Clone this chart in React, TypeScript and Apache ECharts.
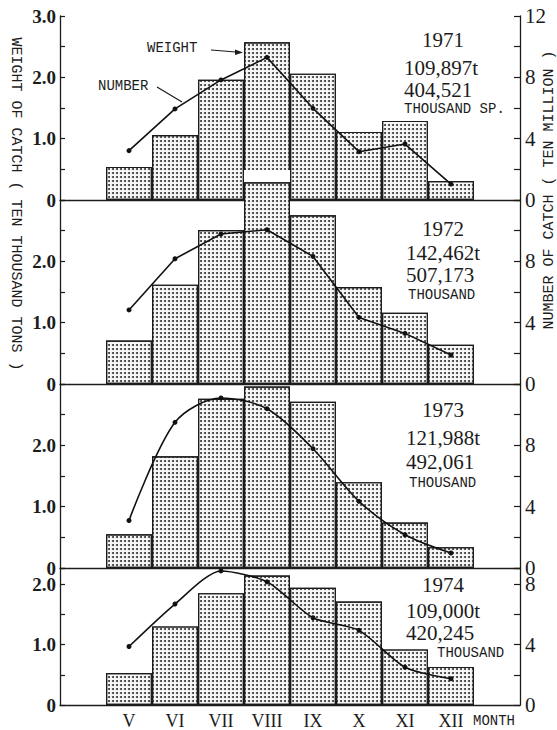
import React, { useEffect, useRef } from 'react';
import * as echarts from 'echarts';

// ---------- data ----------
const months = ['', 'V', 'VI', 'VII', 'VIII', 'IX', 'X', 'XI', 'XII', ''];
const years = ['1971', '1972', '1973', '1974'];
// weight of catch (ten thousand tons), months V..XII
const weight1971 = [0.54, 1.06, 1.96, 2.57, 2.06, 1.11, 1.29, 0.31];
const weight1972 = [0.71, 1.62, 2.51, 3.29, 2.75, 1.58, 1.16, 0.64];
const weight1973 = [0.55, 1.82, 2.76, 2.96, 2.71, 1.40, 0.74, 0.34];
const weight1974 = [0.53, 1.30, 1.85, 2.14, 1.94, 1.71, 0.92, 0.63];
// number of catch (ten million), months V..XII
const number1971 = [3.22, 5.94, 7.83, 9.30, 5.98, 3.15, 3.65, 1.04];
const number1972 = [4.83, 8.17, 9.78, 10.06, 8.32, 4.34, 3.30, 1.89];
const number1973 = [3.10, 9.50, 11.09, 10.39, 7.78, 4.35, 2.17, 0.98];
const number1974 = [3.87, 6.68, 8.87, 8.15, 5.77, 4.94, 2.50, 1.74];
const totalWeights = ['109,897t', '142,462t', '121,988t', '109,000t'];
const totalNumbers = ['404,521', '507,173', '492,061', '420,245'];
const unitLabels = ['THOUSAND SP.', 'THOUSAND', 'THOUSAND', 'THOUSAND'];
const leftAxisName = 'WEIGHT OF CATCH ( TEN THOUSAND TONS )';
const rightAxisName = 'NUMBER OF CATCH ( TEN MILLION )';

// ---------- layout ----------
const SERIF = '"Liberation Serif", "DejaVu Serif", serif';
const MONO = '"Liberation Mono", "DejaVu Sans Mono", monospace';
const panelTop = [16, 200, 384, 568];
const panelBottom = [200, 384, 568, 707];
const PX_PER_UNIT = 184 / 3;
const smoothness = [false, false, 0.3, 0.25];
const textPos = [
  { year: [443, 40], w: [404, 68], n: [404, 90], u: [404, 109] },
  { year: [443, 229], w: [406, 253], n: [406, 275], u: [408, 295] },
  { year: [443, 410], w: [406, 438], n: [406, 462], u: [409, 483] },
  { year: [443, 585], w: [406, 611], n: [406, 633], u: [437, 653] },
];

const pad = (a: (number | null)[]) => [null, ...a, null];

export default function App() {
  const ref = useRef<HTMLDivElement>(null);
  useEffect(() => {
    const chart = echarts.init(ref.current!, null, { renderer: 'svg' });
    const weights = [weight1971, weight1972, weight1973, weight1974];
    const numbers = [number1971, number1972, number1973, number1974];
    const grid: any[] = [];
    const xAxis: any[] = [];
    const yAxis: any[] = [];
    const series: any[] = [];
    const ink = '#1c1c1c';

    for (let i = 0; i < 4; i++) {
      const h = panelBottom[i] - panelTop[i];
      const wMax = Math.round((h / PX_PER_UNIT) * 1000) / 1000;
      grid.push({ left: 60, right: 37, top: panelTop[i], height: h });
      xAxis.push({
        type: 'category',
        gridIndex: i,
        data: months,
        boundaryGap: true,
        axisLine: { lineStyle: { color: ink, width: 1.3 } },
        axisTick: { show: false },
        splitLine: { show: false },
        axisLabel:
          i === 3
            ? { show: true, interval: 0, fontFamily: SERIF, fontSize: 18, color: ink, margin: 7 }
            : { show: false },
      });
      yAxis.push({
        type: 'value',
        gridIndex: i,
        position: 'left',
        min: 0,
        max: wMax,
        interval: 0.5,
        axisLine: { show: true, lineStyle: { color: ink, width: 1.3 } },
        axisTick: { show: true, inside: true, length: 5, lineStyle: { color: ink, width: 1.2 } },
        splitLine: { show: false },
        axisLabel: {
          margin: 4,
          fontFamily: SERIF,
          fontWeight: 'bold',
          fontSize: 19,
          lineHeight: 14,
          color: ink,
          formatter: (v: number) => {
            if (Math.abs(v - Math.round(v)) > 1e-6) return '';
            if (Math.round(v) === 0) return '0';
            if (i > 0 && v >= 2.9) return '';
            return v.toFixed(1);
          },
        },
      });
      yAxis.push({
        type: 'value',
        gridIndex: i,
        position: 'right',
        min: 0,
        max: Math.round(wMax * 4 * 1000) / 1000,
        interval: 2,
        axisLine: { show: true, lineStyle: { color: ink, width: 1.3 } },
        axisTick: { show: true, inside: true, length: 6, lineStyle: { color: ink, width: 1.2 } },
        splitLine: { show: false },
        axisLabel: {
          margin: 5,
          fontFamily: SERIF,
          fontSize: 21,
          lineHeight: 14,
          color: ink,
          formatter: (v: number) => {
            if (Math.abs(v / 4 - Math.round(v / 4)) > 1e-6) return '';
            if (i > 0 && v >= 11.9) return '';
            return String(Math.round(v));
          },
        },
      });

      const overflow = weights[i].map((v) => (v > wMax ? v + 0.2 : null));
      if (overflow.some((v) => v != null)) {
        series.push({
          type: 'bar',
          xAxisIndex: i,
          yAxisIndex: 2 * i,
          data: pad(overflow),
          barWidth: '100%',
          barGap: '-100%',
          clip: false,
          silent: true,
          itemStyle: { color: '#ffffff', borderWidth: 0 },
        });
      }
      series.push({
        type: 'bar',
        xAxisIndex: i,
        yAxisIndex: 2 * i,
        data: pad(weights[i]),
        barWidth: '100%',
        barGap: '-100%',
        clip: false,
        itemStyle: {
          color: '#f7f7f7',
          borderColor: ink,
          borderWidth: 1.2,
          decal: {
            symbol: 'circle',
            symbolSize: 1,
            dashArrayX: [1.2, 1.8],
            dashArrayY: [1.2, 1.8],
            rotation: 0,
            color: '#333333',
          },
        },
      });
      series.push({
        type: 'line',
        xAxisIndex: i,
        yAxisIndex: 2 * i + 1,
        data: pad(numbers[i]),
        smooth: smoothness[i],
        symbol: 'circle',
        symbolSize: 5,
        clip: false,
        z: 5,
        lineStyle: { color: '#111', width: 1.6 },
        itemStyle: { color: '#111' },
      });
    }

    const graphic: any[] = [];
    const txt = (
      x: number,
      y: number,
      text: string,
      font: string,
      lineHeight: number,
      align = 'left',
      rotation = 0
    ) => ({
      type: 'text',
      x,
      y,
      rotation,
      silent: true,
      style: { text, font, lineHeight, fill: ink, textAlign: align, verticalAlign: 'middle' },
    });
    for (let i = 0; i < 4; i++) {
      const p = textPos[i];
      graphic.push(txt(p.year[0], p.year[1], years[i], `21px ${SERIF}`, 16, 'center'));
      graphic.push(txt(p.w[0], p.w[1], totalWeights[i], `21px ${SERIF}`, 16));
      graphic.push(txt(p.n[0], p.n[1], totalNumbers[i], `21px ${SERIF}`, 16));
      graphic.push(txt(p.u[0], p.u[1], unitLabels[i], `14px ${MONO}`, 12));
    }
    graphic.push(txt(15, 204, leftAxisName, `15px ${MONO}`, 14, 'center', -Math.PI / 2));
    graphic.push(txt(549, 190, rightAxisName, `15px ${MONO}`, 13, 'center', Math.PI / 2));
    graphic.push(txt(473, 721, 'MONTH', `14px ${MONO}`, 12));
    graphic.push(txt(147, 48, 'WEIGHT', `14px ${MONO}`, 12));
    graphic.push(txt(98, 86, 'NUMBER', `14px ${MONO}`, 12));
    graphic.push({
      type: 'line',
      silent: true,
      shape: { x1: 211, y1: 50, x2: 236, y2: 52 },
      style: { stroke: ink, lineWidth: 1.2 },
    });
    graphic.push({
      type: 'polygon',
      silent: true,
      shape: { points: [[243, 52.5], [235, 49.5], [235, 55]] },
      style: { fill: ink },
    });
    graphic.push({
      type: 'line',
      silent: true,
      shape: { x1: 157, y1: 87, x2: 182, y2: 102 },
      style: { stroke: ink, lineWidth: 1.2 },
    });

    chart.setOption({
      animation: false,
      backgroundColor: '#ffffff',
      grid,
      xAxis,
      yAxis,
      series,
      graphic,
    });
    return () => chart.dispose();
  }, []);
  return (
    <div
      ref={ref}
      style={{ position: 'fixed', left: 0, top: 0, width: 557, height: 730, background: '#fff' }}
    />
  );
}
